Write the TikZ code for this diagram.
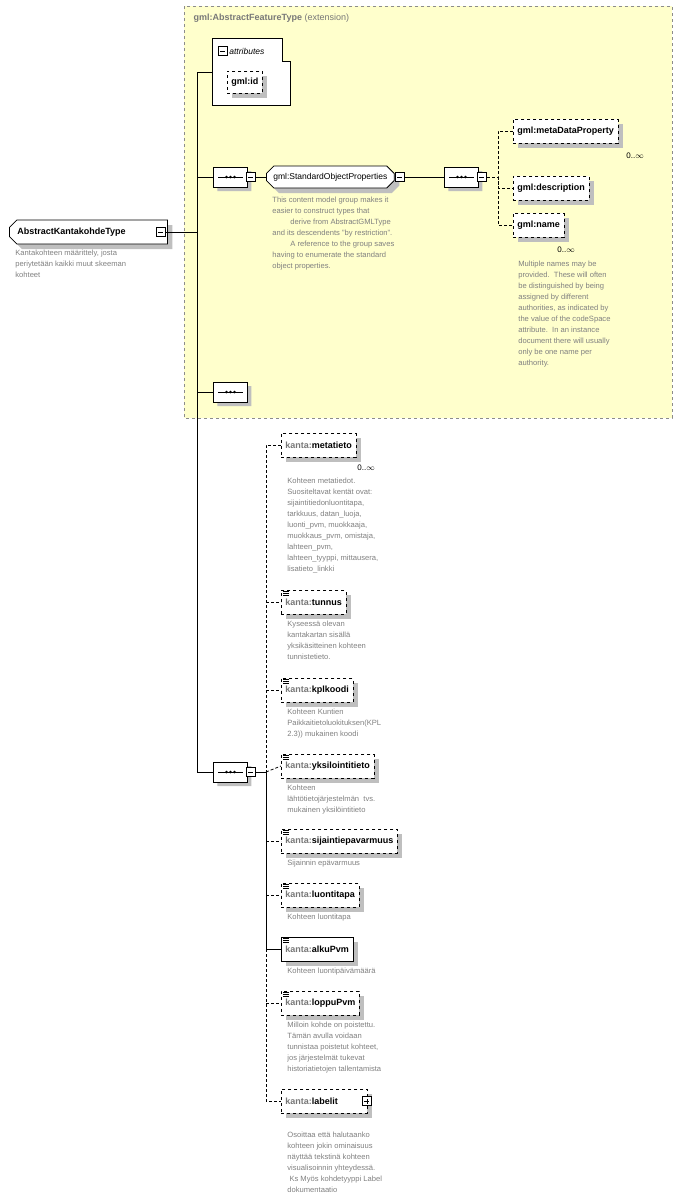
\documentclass[tikz,border=0pt]{standalone}
\usepackage{fontspec}
\setmainfont{Liberation Sans}
\usetikzlibrary{positioning,shapes.misc,shadows}

\definecolor{extfill}{RGB}{255,255,204}
\definecolor{doctext}{RGB}{128,128,128}
\definecolor{nsgray}{RGB}{120,120,120}

\tikzset{
  elem/.style={draw, dashed, fill=white, anchor=west, minimum height=24pt, inner sep=4pt,
    font=\fontsize{9}{10}\selectfont\bfseries,
    drop shadow={shadow xshift=5pt, shadow yshift=-5pt, fill=black!25, opacity=1}},
  elemreq/.style={elem, solid},
  doc/.style={anchor=north west, align=left, inner sep=0pt, text=doctext,
    font=\fontsize{7.6}{11}\selectfont},
  seqbox/.style={draw, fill=white, chamfered rectangle, chamfered rectangle xsep=4pt,
    chamfered rectangle ysep=5pt, minimum width=34pt, minimum height=20pt, inner sep=0pt,
    drop shadow={shadow xshift=4pt, shadow yshift=-4pt, fill=black!25, opacity=1}},
  minusbox/.style={draw, fill=white, minimum size=9pt, inner sep=0pt, anchor=west,
    path picture={\draw ([xshift=2pt]path picture bounding box.west) -- ([xshift=-2pt]path picture bounding box.east);}},
  plusbox/.style={minusbox,
    path picture={\draw ([xshift=2pt]path picture bounding box.west) -- ([xshift=-2pt]path picture bounding box.east);
      \draw ([yshift=2pt]path picture bounding box.south) -- ([yshift=-2pt]path picture bounding box.north);}},
  opt/.style={densely dashed},
}
\newcommand{\kanta}[1]{\textcolor{nsgray}{kanta:}#1}
% dots inside a sequence compositor
\newcommand{\seqdots}[1]{%
  \draw ([xshift=5pt]#1.west) -- ([xshift=-5pt]#1.east);
  \foreach \dx in {-4,0,4} {\fill ([xshift=\dx pt]#1.center) circle (1.4pt);}}
% documentation mark of an element
\newcommand{\docmark}[1]{%
  \foreach \dy in {2,4,6} {\draw[solid, line width=0.5pt] ([xshift=2pt,yshift=-\dy pt]#1.north west) -- ++(6pt,0);}}

\begin{document}
\begin{tikzpicture}[x=1pt, y=-1pt, line width=0.8pt]
\useasboundingbox (0,0) rectangle (683,1202);

% extension area
\draw[dashed, draw=black!45, fill=extfill] (184,6) rectangle (672,418);
\node[anchor=west, text=nsgray, font=\fontsize{9}{10}\selectfont] (exttitle) at (190,18)
  {\textbf{gml:AbstractFeatureType} (extension)};

% root type
\node[draw, fill=white, chamfered rectangle, chamfered rectangle corners={north west,south west},
  chamfered rectangle xsep=4pt, minimum height=24pt, minimum width=158pt, anchor=west,
  text width=142pt, font=\fontsize{9}{10}\selectfont\bfseries,
  drop shadow={shadow xshift=5pt, shadow yshift=-5pt, fill=black!25, opacity=1}]
  (root) at (9,232) {AbstractKantakohdeType};
\node[minusbox] (rootminus) at (156,232) {};
\node[doc] (rootdoc) at (15,250) {Kantakohteen määrittely, josta\\periytetään kaikki muut skeeman\\kohteet};

% attributes
\draw[fill=white] (212,38) -- (282,38) -- (282,61) -- (290,61) -- (290,105) -- (212,105) -- cycle;
\node[minusbox] (attrminus) at (218,51) {};
\node[anchor=west, inner sep=1pt, font=\fontsize{8.5}{10}\selectfont\itshape] (attr) at (228,51) {attributes};
\node[elem, minimum height=22pt] (gmlid) at (227,82) {gml:id};
\coordinate (attrin) at (212,72);

% trunk
\coordinate (trunktop) at (197,72);
\coordinate (trunkbot) at (197,772);
\draw (rootminus.east) -- (197,232);
\draw (trunktop) -- (trunkbot);
\draw (trunktop) -- (attrin);

% standard object properties
\node[seqbox, anchor=west] (seqA) at (213,177) {};
\seqdots{seqA}
\node[minusbox] (seqAminus) at (246,177) {};
\draw (197,177) -- (seqA.west);
\node[draw, fill=white, chamfered rectangle, chamfered rectangle xsep=4pt, minimum height=22pt,
  anchor=west, inner sep=3pt, font=\fontsize{8.5}{10}\selectfont,
  drop shadow={shadow xshift=5pt, shadow yshift=-5pt, fill=black!25, opacity=1}]
  (sop) at (266,177) {gml:StandardObjectProperties};
\node[minusbox] (sopminus) at (sop.east) {};
\draw (seqAminus.east) -- (sop.west);
\node[doc] (sopdoc) at (272,197) {This content model group makes it\\easier to construct types that\\\hspace{18pt}derive from AbstractGMLType\\and its descendents "by restriction".\\\hspace{18pt}A reference to the group saves\\having to enumerate the standard\\object properties.};

\node[seqbox, anchor=west] (seqB) at (444,177) {};
\seqdots{seqB}
\node[minusbox] (seqBminus) at (477,177) {};
\draw (sopminus.east) -- (seqB.west);
\coordinate (branchB) at (498,177);
\draw[opt] (seqBminus.east) -- (branchB);

\node[elem] (meta) at (513,131) {gml:metaDataProperty};
\node[elem] (descr) at (513,188) {gml:description};
\node[elem] (name) at (513,225) {gml:name};
\draw[opt] (meta.west) -| (branchB) |- (name.west);
\draw[opt] (branchB) |- (descr.west);
\node[anchor=west, font=\fontsize{8}{10}\selectfont, inner sep=0pt] (metamult) at (626,156) {0..$\infty$};
\node[anchor=west, font=\fontsize{8}{10}\selectfont, inner sep=0pt] (namemult) at (557,250) {0..$\infty$};
\node[doc] (namedoc) at (518,261) {Multiple names may be\\provided.\ \ These will often\\be distinguished by being\\assigned by different\\authorities, as indicated by\\the value of the codeSpace\\attribute.\ \ In an instance\\document there will usually\\only be one name per\\authority.};

% empty sequence
\node[seqbox, anchor=west] (seqC) at (213,392) {};
\seqdots{seqC}
\draw (197,392) -- (seqC.west);

% kanta sequence
\node[seqbox, anchor=west] (seqD) at (213,772) {};
\seqdots{seqD}
\node[minusbox] (seqDminus) at (246,772) {};
\draw (trunkbot) -- (seqD.west);
\coordinate (branchD) at (266,772);
\draw (seqDminus.east) -- (branchD);

\node[elem] (metatieto) at (281,445) {\kanta{metatieto}};
\node[anchor=west, font=\fontsize{8}{10}\selectfont, inner sep=0pt] (metatietomult) at (357,468) {0..$\infty$};
\node[doc] (metatietodoc) at (287,478) {Kohteen metatiedot.\\Suositeltavat kentät ovat:\\sijaintitiedonluontitapa,\\tarkkuus, datan\_luoja,\\luonti\_pvm, muokkaaja,\\muokkaus\_pvm, omistaja,\\lahteen\_pvm,\\lahteen\_tyyppi, mittausera,\\lisatieto\_linkki};

\node[elem] (tunnus) at (281,602) {\kanta{tunnus}};
\node[doc] (tunnusdoc) at (287,621) {Kyseessä olevan\\kantakartan sisällä\\yksikäsitteinen kohteen\\tunnistetieto.};

\node[elem] (kplkoodi) at (281,690) {\kanta{kplkoodi}};
\node[doc] (kplkoodidoc) at (287,709) {Kohteen Kuntien\\Paikkaitietoluokituksen(KPL\\2.3)) mukainen koodi};

\node[elem] (yksilo) at (281,766) {\kanta{yksilointitieto}};
\node[doc] (yksilodoc) at (287,785) {Kohteen\\lähtötietojärjestelmän\ \ tvs.\\mukainen yksilöintitieto};

\node[elem] (sijainti) at (281,841) {\kanta{sijaintiepavarmuus}};
\node[doc] (sijaintidoc) at (287,860) {Sijainnin epävarmuus};

\node[elem] (luontitapa) at (281,895) {\kanta{luontitapa}};
\node[doc] (luontitapadoc) at (287,914) {Kohteen luontitapa};

\node[elemreq] (alkupvm) at (281,949) {\kanta{alkuPvm}};
\node[doc] (alkupvmdoc) at (287,968) {Kohteen luontipäivämäärä};

\node[elem] (loppupvm) at (281,1003) {\kanta{loppuPvm}};
\node[doc] (loppupvmdoc) at (287,1022) {Milloin kohde on poistettu.\\Tämän avulla voidaan\\tunnistaa poistetut kohteet,\\jos järjestelmät tukevat\\historiatietojen tallentamista};

\node[elem, text width=78pt] (labelit) at (281,1101) {\kanta{labelit}};
\node[plusbox] (labelitplus) at (362,1101) {};
\node[doc] (labelitdoc) at (287,1132) {Osoittaa että halutaanko\\kohteen jokin ominaisuus\\näyttää tekstinä kohteen\\visualisoinnin yhteydessä.\\\ Ks Myös kohdetyyppi Label\\dokumentaatio};

% connectors of the kanta sequence
\draw[opt] (metatieto.west) -| (branchD);
\draw (branchD) |- (alkupvm.west);
\draw[opt] (alkupvm.west -| branchD) |- (labelit.west);
\foreach \e in {tunnus,kplkoodi,sijainti,luontitapa,loppupvm} {\draw[opt] (branchD |- \e.west) -- (\e.west);}
\draw[opt] (branchD) -- (yksilo.west);

% documentation marks
\foreach \e in {tunnus,kplkoodi,yksilo,sijainti,luontitapa,alkupvm,loppupvm} {\docmark{\e}}
\end{tikzpicture}
\end{document}
